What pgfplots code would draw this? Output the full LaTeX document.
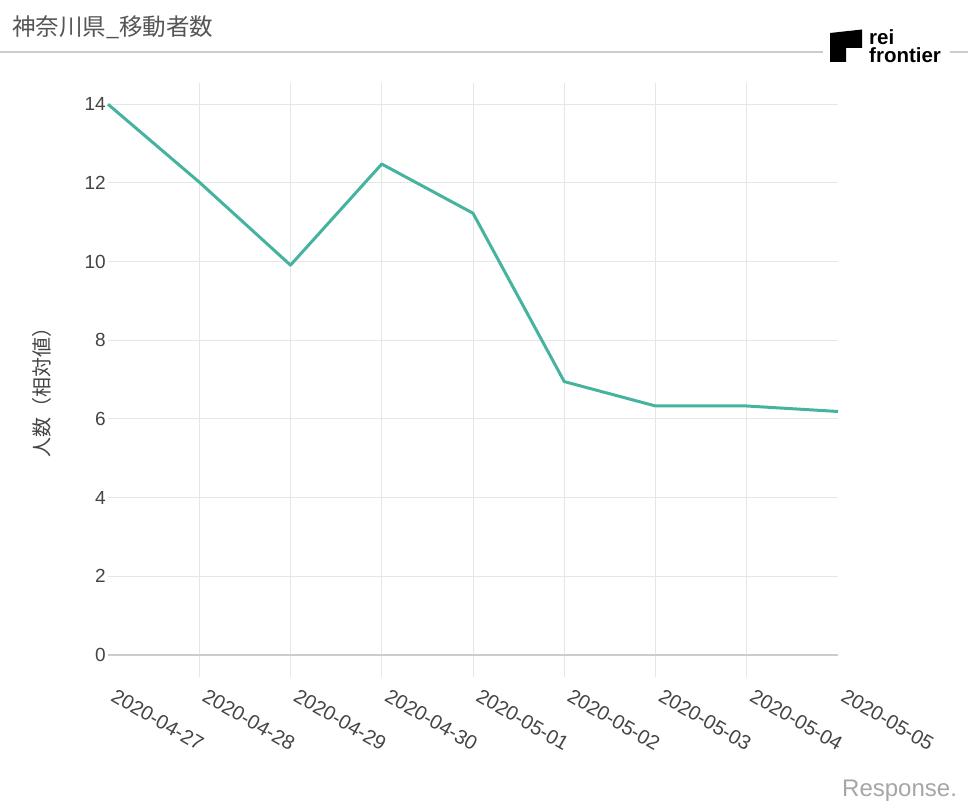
\documentclass[border=0pt]{standalone}
\usepackage{pgfplots}
\pgfplotsset{compat=1.18}
\usepackage{fontspec}
\setmainfont{Liberation Sans}
\newfontfamily\cjk{Noto Sans CJK JP}
\definecolor{linec}{HTML}{45B39D}
\definecolor{gridc}{HTML}{E6E6E6}
\definecolor{zeroc}{HTML}{CCCCCC}
\definecolor{txt}{HTML}{444444}
\definecolor{ttl}{HTML}{555555}
\begin{document}
\begin{tikzpicture}[x=1pt,y=1pt]
\useasboundingbox (0,0) rectangle (968,-810);
% title
\node[anchor=west,inner sep=0pt,text=ttl] at (12,-27) {\cjk\fontsize{23.5}{27}\selectfont 神奈川県\_移動者数};
\draw[color=zeroc,line width=1.3pt] (0,-52) -- (823,-52);
\draw[color=zeroc,line width=1.3pt] (950,-52) -- (968,-52);
% logo
\fill[black] (830,-33) -- (862,-29.5) -- (862,-48) -- (846,-48) -- (846,-62) -- (830,-62) -- cycle;
\node[anchor=base west,inner sep=0pt] at (869,-45) {\fontsize{20.5}{22}\selectfont\bfseries rei};
\node[anchor=base west,inner sep=0pt] at (869,-63) {\fontsize{20.5}{22}\selectfont\bfseries frontier};
% watermark
\node[anchor=base west,inner sep=0pt,text=gray!70] at (842,-796) {\fontsize{24}{26}\selectfont Response.};
\begin{axis}[
  at={(108pt,-655pt)}, anchor=south west,
  scale only axis, width=730pt, height=572pt,
  xmin=0, xmax=8, ymin=0, ymax=14.54,
  axis line style={draw=none},
  xtick={0,...,8},
  xticklabels={2020-04-27,2020-04-28,2020-04-29,2020-04-30,2020-05-01,2020-05-02,2020-05-03,2020-05-04,2020-05-05},
  ytick={0,2,...,14},
  ymajorgrids,
  grid style={color=gridc,line width=1pt},
  major tick length=0pt,
  xtick pos=bottom, ytick pos=left,
  tick align=outside,
  extra x ticks={1,...,7},
  extra x tick labels={},
  extra x tick style={grid=major, major tick length=22pt, tick style={color=gridc,line width=1pt}},
  extra y ticks={0},
  extra y tick labels={},
  extra y tick style={grid=major, grid style={color=zeroc,line width=1.6pt}},
  xticklabel style={rotate=-30, anchor=north west, inner sep=0pt, xshift=24pt, yshift=-24pt, text=txt, font=\fontsize{20}{22}\selectfont},
  yticklabel style={anchor=east, inner sep=0pt, xshift=-2pt, text=txt, font=\fontsize{19}{21}\selectfont},
  /pgf/number format/assume math mode=true,
  ylabel={\cjk 人数（相対値）},
  ylabel style={at={(axis description cs:-0.0904,0.467)}, anchor=center, rotate=0, text=txt, font=\fontsize{20}{22}\selectfont},
  clip=false,
]
\addplot[color=linec, line width=3pt, line join=round, mark=none] coordinates {
(0,14.0) (1,12.02) (2,9.91) (3,12.48) (4,11.23) (5,6.95) (6,6.33) (7,6.33) (8,6.19)
};
\end{axis}
\end{tikzpicture}
\end{document}
